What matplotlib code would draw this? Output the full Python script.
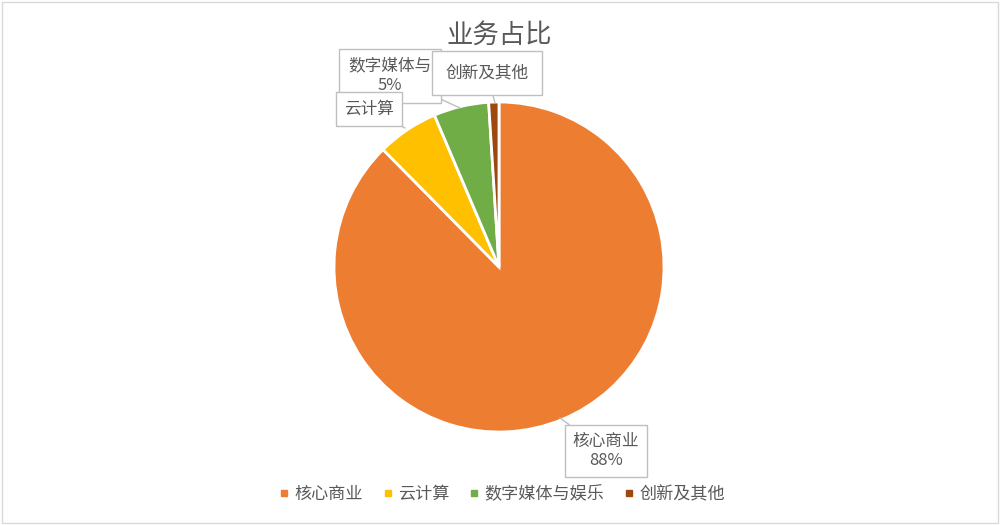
import matplotlib
matplotlib.use("Agg")
import matplotlib.pyplot as plt
from matplotlib.patches import Rectangle
from matplotlib.lines import Line2D

plt.rcParams["font.family"] = ["Noto Sans CJK SC", "DejaVu Sans"]

# data
categories = ["核心商业", "云计算", "数字媒体与娱乐", "创新及其他"]
shares = [87.6, 6.0, 5.4, 1.0]
colors = ["#ED7D31", "#FFC000", "#70AD47", "#9E480E"]
# callout texts as they are visible on the chart (the media label is cut off by the next box)
callouts = ["核心商业\n88%", "云计算", "数字媒体与\n5%", "创新及其他"]

TEXT = "#595959"
EDGE = "#BFBFBF"
W, H = 1000, 525

fig = plt.figure(figsize=(W / 100, H / 100), dpi=100)
ax = fig.add_axes([0, 0, 1, 1])

cx, cy, r = 499, H - 267, 165
ax.pie(shares, colors=colors, startangle=90, counterclock=False,
       center=(cx, cy), radius=r, frame=True,
       wedgeprops=dict(edgecolor="white", linewidth=2))
ax.set_xlim(0, W)
ax.set_ylim(0, H)
ax.axis("off")

ax.text(499, H - 35, "业务占比", ha="center", va="center", fontsize=19, color=TEXT)

# callout positions: (text xy, point on wedge, box padding, layer)
spots = [
    ((606, H - 451), (560, H - 418), 0.45, 5),
    ((369, H - 109), (405, H - 128), 0.5, 7),
    ((390, H - 76), (460, H - 108), 0.55, 6),
    ((487, H - 73), (495, H - 103), 0.8, 8),
]
for txt, (xy, tip, pad, z) in zip(callouts, spots):
    ax.annotate(txt, xy=tip, xytext=xy, ha="center", va="center",
                fontsize=12, color=TEXT, zorder=z,
                bbox=dict(boxstyle=f"square,pad={pad}", fc="white", ec=EDGE, lw=1),
                arrowprops=dict(arrowstyle="-", color=EDGE, lw=1,
                                shrinkA=0, shrinkB=0))

handles = [Line2D([], [], marker="s", linestyle="", markersize=4.3,
                  markerfacecolor=c, markeredgecolor=c) for c in colors]
fig.legend(handles, categories, loc="center", bbox_to_anchor=(0.5025, 1 - 494 / H),
           ncol=4, frameon=False, fontsize=12.3, labelcolor=TEXT,
           handlelength=0.5, handletextpad=0.35, columnspacing=1.2)

fig.patches.append(Rectangle((2 / W, 2 / H), 996 / W, 521 / H, transform=fig.transFigure,
                             fill=False, edgecolor="#D9D9D9", lw=1))

fig.savefig("out.png", dpi=100)
